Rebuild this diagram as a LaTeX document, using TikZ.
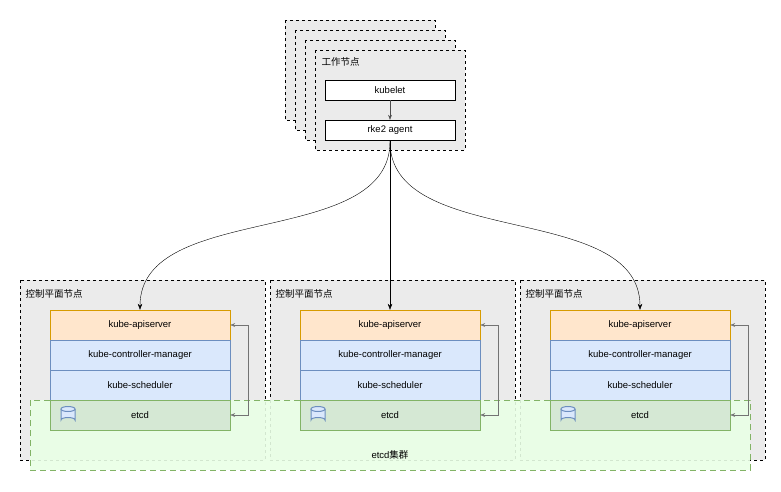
\documentclass[tikz,border=0pt]{standalone}
\usepackage{fontspec}
\setmainfont{Liberation Sans}
\newfontfamily\cjk{Noto Sans CJK SC}
\usetikzlibrary{positioning,arrows.meta}
\definecolor{apiFill}{HTML}{FFE6CC}
\definecolor{apiLine}{HTML}{D79B00}
\definecolor{ctlFill}{HTML}{DAE8FC}
\definecolor{ctlLine}{HTML}{6C8EBF}
\definecolor{etcdFill}{HTML}{D5E8D4}
\definecolor{etcdLine}{HTML}{82B366}
\definecolor{clusterFill}{HTML}{E9FFE6}
\tikzset{
  host/.style={draw=black,dashed,fill=black!8,line width=0.6pt},
  comp/.style={draw=black,fill=white,minimum width=130pt,minimum height=20pt,inner sep=0pt},
  api/.style={draw=apiLine,fill=apiFill,minimum width=180pt,minimum height=30pt,inner sep=0pt},
  ctl/.style={draw=ctlLine,fill=ctlFill,minimum width=180pt,minimum height=30pt,inner sep=0pt},
  db/.style={draw=etcdLine,fill=etcdFill,minimum width=180pt,minimum height=30pt,inner sep=0pt},
  peer/.style={draw=black!55,{Stealth[length=5pt]}-{Stealth[length=5pt]}},
}
\begin{document}
\begin{tikzpicture}[x=1pt,y=-1pt,font=\fontsize{9.5}{11}\selectfont]
\useasboundingbox (0,0) rectangle (781,491);
% worker stack
\foreach \d in {0,10,20,30}
  \draw [host] (285+\d,20+\d) rectangle (435+\d,120+\d);
\node [anchor=north west,font=\fontsize{9.5}{11}\cjk] at (318,54) {工作节点};
\node [comp] (kubelet) at (390,90) {kubelet};
\node [comp] (agent) at (390,130) {rke2 agent};
\draw [-{Stealth[length=5pt]},black!70] (kubelet) -- (agent);
% control plane hosts
\foreach \x in {20,270,520}{
  \draw [host] (\x,280) rectangle (\x+245,460);
  \node [anchor=north west,font=\fontsize{9.5}{11}\cjk] at (\x+2,286) {控制平面节点};
}
% cluster
\draw [dash pattern=on 6pt off 4pt,draw=etcdLine,fill=clusterFill,fill opacity=0.9] (30,400) rectangle (750,470);
\node at (390,455) {etcd\cjk 集群};
\foreach \x/\n in {20/a,270/b,520/c}{
  \node [api] (api\n) at (\x+120,325) {kube-apiserver};
  \node [ctl] (cm\n) at (\x+120,355) {kube-controller-manager};
  \node [ctl] (sch\n) at (\x+120,385) {kube-scheduler};
  \node [db] (etcd\n) at (\x+120,415) {etcd};
  % disk icon
  \draw [ctlLine,fill=ctlFill,line width=1pt] (\x+41,409) -- (\x+41,420) arc (180:360:7 and 2.5) -- (\x+55,409);
  \draw [ctlLine,fill=ctlFill,line width=1pt] (\x+48,409) ellipse (7 and 2.5);
  \draw [peer] (api\n.east) -- ++(18,0) |- (etcd\n.east);
}
% links to api servers
\draw [-{Stealth[length=6pt]}] (agent.south) .. controls (392,250) and (140,200) .. (apia.north);
\draw [-{Stealth[length=6pt]}] (agent.south) -- (apib.north);
\draw [-{Stealth[length=6pt]}] (agent.south) .. controls (388,250) and (640,200) .. (apic.north);
\end{tikzpicture}
\end{document}
